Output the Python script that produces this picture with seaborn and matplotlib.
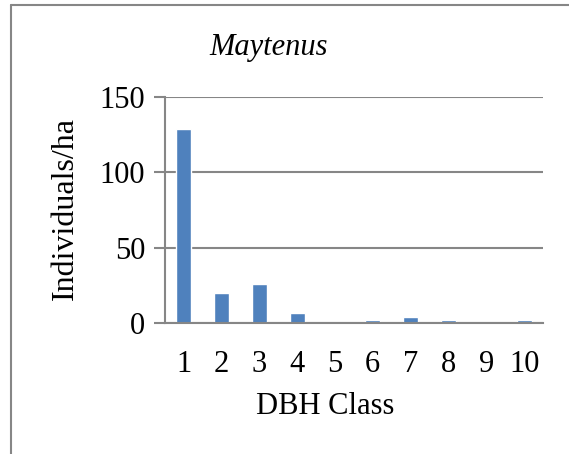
import numpy as np
import pandas as pd
import matplotlib
matplotlib.use("Agg")
import matplotlib.pyplot as plt
from matplotlib.lines import Line2D
import seaborn as sns

dbh_class = ["1", "2", "3", "4", "5", "6", "7", "8", "9", "10"]
individuals = [129, 20, 26, 6.5, 0, 2, 4, 2, 0, 2]
y_ticks = [0, 50, 100, 150]

sns.set_theme(style="white")
plt.rcParams["font.family"] = ["Liberation Serif", "DejaVu Serif"]
plt.rcParams["text.color"] = "black"

W, H = 569, 454
fig = plt.figure(figsize=(W / 100, H / 100), dpi=100)
ax = fig.add_axes([164.7 / W, 1 - 322.7 / H, (543 - 164.7) / W, (322.7 - 97.3) / H])

df = pd.DataFrame({"cls": dbh_class, "n": individuals})
sns.barplot(data=df, x="cls", y="n", color="#4F81BD", saturation=1, width=0.4, ax=ax)

grey = "#868686"
ax.set_ylim(0, 150)
ax.set_xlim(-0.5, len(dbh_class) - 0.5)
ax.set_yticks(y_ticks)
ax.yaxis.grid(True, color=grey, linewidth=1.5)
ax.set_axisbelow(True)
for s in ["top", "right"]:
    ax.spines[s].set_visible(False)
for s in ["left", "bottom"]:
    ax.spines[s].set_color(grey)
    ax.spines[s].set_linewidth(1.5)

ax.set_xticks(np.arange(-0.5, len(dbh_class)), minor=True)
ax.tick_params(axis="x", which="major", length=0, pad=20, labelsize=22, labelcolor="black")
ax.tick_params(axis="x", which="minor", length=8, width=1.5, color=grey, direction="out")
ax.tick_params(axis="y", length=8, width=1.5, color=grey, direction="out", pad=6,
               labelsize=22, labelcolor="black", left=True)

ax.set_xlabel("")
ax.set_ylabel("")
fig.text(325 / W, 1 - 407 / H, "DBH Class", ha="center", va="center", fontsize=22)
fig.text(65 / W, 1 - 209 / H, "Individuals/ha", ha="center", va="center",
         rotation=90, fontsize=23)
fig.text(269 / W, 1 - 47 / H, "Maytenus", ha="center", va="center",
         fontsize=22, style="italic")

# chart frame (only top and left edges visible in the crop)
fig.add_artist(Line2D([11 / W, 1], [1 - 5 / H, 1 - 5 / H], color=grey, linewidth=1.5))
fig.add_artist(Line2D([11 / W, 11 / W], [0, 1 - 5 / H], color=grey, linewidth=1.5))

fig.savefig("out.png", dpi=100)
